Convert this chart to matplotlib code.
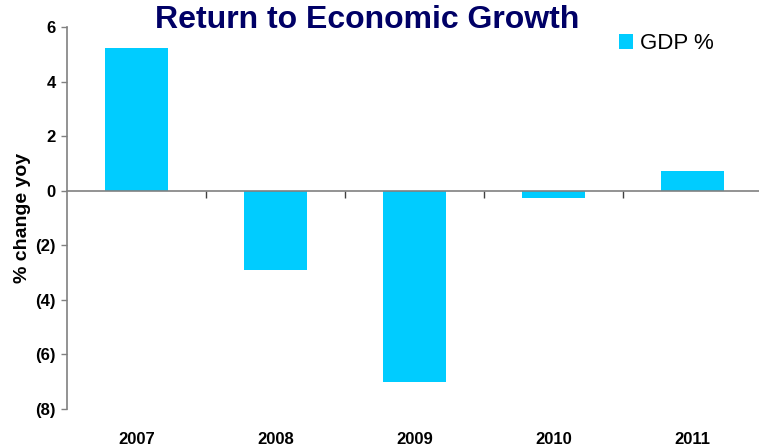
import matplotlib
matplotlib.use('Agg')
import matplotlib.pyplot as plt

plt.rcParams['font.family'] = ['Liberation Sans', 'DejaVu Sans']

years = ['2007', '2008', '2009', '2010', '2011']
gdp = [5.24, -2.9, -7.0, -0.28, 0.72]
yticks = [6, 4, 2, 0, -2, -4, -6, -8]
ytick_labels = ['6', '4', '2', '0', '(2)', '(4)', '(6)', '(8)']

fig = plt.figure(figsize=(7.59, 4.48), dpi=100)
ax = fig.add_axes([67 / 759, 39 / 448, 695 / 759, 382 / 448])

x = range(len(years))
ax.bar(x, gdp, width=0.46, color='#00CCFF', label='GDP %', zorder=2)

ax.set_xlim(-0.5, len(years) - 0.5)
ax.set_ylim(-8, 6)
ax.set_yticks(yticks)
ax.set_yticklabels(ytick_labels, fontsize=12, fontweight='bold')
ax.tick_params(axis='y', direction='out', length=4, color='#808080', width=1, pad=4)

# category axis sits on zero, ticks between categories, labels at bottom
for s in ['top', 'right']:
    ax.spines[s].set_visible(False)
ax.spines['left'].set_color('#808080')
ax.spines['left'].set_linewidth(1.2)
ax.spines['bottom'].set_position(('data', 0))
ax.spines['bottom'].set_color('#808080')
ax.spines['bottom'].set_linewidth(1.2)
ax.spines['bottom'].set_zorder(3)
ax.set_xticks([i + 0.5 for i in range(len(years) - 1)])
ax.set_xticklabels([])
ax.tick_params(axis='x', direction='out', length=5, color='#404040', width=1)
for i, yr in enumerate(years):
    ax.text(i, -0.081, yr, transform=ax.get_xaxis_transform(), ha='center',
            va='center', fontsize=12, fontweight='bold')

ax.set_ylabel('% change yoy', fontsize=14, fontweight='bold')
ax.yaxis.set_label_coords(-0.052, 0.5)

fig.text(367 / 759, 1 - 20 / 448, 'Return to Economic Growth', ha='center',
         va='center', fontsize=23, fontweight='bold', color='#000066')

ax.legend(loc='upper left', bbox_to_anchor=(619 / 759, 1 - 33 / 448),
          bbox_transform=fig.transFigure, frameon=False, fontsize=16,
          handlelength=0.65, handleheight=0.65, handletextpad=0.3,
          borderpad=0, borderaxespad=0)

plt.savefig('out.png', dpi=100)
